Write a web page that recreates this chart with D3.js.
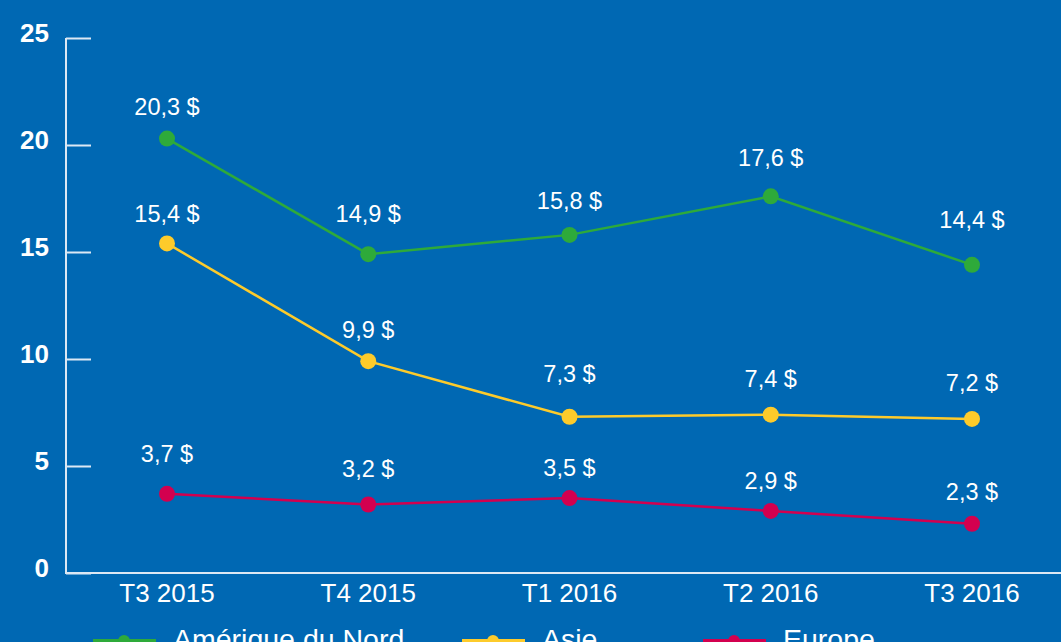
<!DOCTYPE html>
<html>
<head>
<meta charset="utf-8">
<script src="https://cdn.jsdelivr.net/npm/d3@7"></script>
<style>
	body { margin: 0; background: #0068b3; }
	svg { display: block; font-family: "Liberation Sans", Arial, sans-serif; }
</style>
</head>
<body>
<svg id="chart"></svg>
<script>
var windowW = 1061;
var windowH = 642;

var bgColor = "#0068b3";
var axisColor = "#dce8f4";

// data
var quarters = ["T3 2015", "T4 2015", "T1 2016", "T2 2016", "T3 2016"];
var seriesNames = ["Amérique du Nord", "Asie", "Europe"];
var seriesColors = ["#2eaa3a", "#fdcb2b", "#d3004f"];
var northAmerica = [20.3, 14.9, 15.8, 17.6, 14.4];
var asia = [15.4, 9.9, 7.3, 7.4, 7.2];
var europe = [3.7, 3.2, 3.5, 2.9, 2.3];
var yTicks = [0, 5, 10, 15, 20, 25];

// label lift above each point (layout only, px)
var labelLift = [
	[24, 32, 26, 30, 37],
	[21, 23, 35, 28, 28],
	[32, 28, 22, 22, 24]
];

var series = [northAmerica, asia, europe].map(function(vals, i) {
	return { name: seriesNames[i], color: seriesColors[i], values: vals, lift: labelLift[i] };
});

var svg = d3.select("#chart")
	.attr("width", windowW)
	.attr("height", windowH);

svg.append("rect")
	.attr("width", windowW)
	.attr("height", windowH)
	.attr("fill", bgColor);

var x = d3.scalePoint()
	.domain(quarters)
	.range([167, 972]);

var y = d3.scaleLinear()
	.domain([0, 25])
	.range([573, 38]);

//////// Axes

var yAxis = svg.append("g").attr("transform", "translate(66,0)")
	.call(d3.axisRight(y).tickValues(yTicks).tickSize(25).tickFormat(""));

yAxis.select(".domain").remove();
yAxis.selectAll(".tick line")
	.attr("stroke", axisColor)
	.attr("stroke-width", 2);

svg.append("line")
	.attr("x1", 66).attr("x2", 66)
	.attr("y1", y(25)).attr("y2", y(0))
	.attr("stroke", axisColor)
	.attr("stroke-width", 2);

svg.append("line")
	.attr("x1", 65).attr("x2", windowW)
	.attr("y1", y(0)).attr("y2", y(0))
	.attr("stroke", axisColor)
	.attr("stroke-width", 2);

svg.selectAll(".yLabel")
	.data(yTicks)
	.enter().append("text")
	.attr("class", "yLabel")
	.attr("x", 49)
	.attr("y", function(d) { return y(d) + 4; })
	.attr("text-anchor", "end")
	.attr("fill", "white")
	.attr("font-weight", "bold")
	.attr("font-size", 26)
	.text(function(d) { return d; });

svg.selectAll(".xLabel")
	.data(quarters)
	.enter().append("text")
	.attr("class", "xLabel")
	.attr("x", function(d) { return x(d); })
	.attr("y", 602)
	.attr("text-anchor", "middle")
	.attr("fill", "white")
	.attr("font-size", 26)
	.text(function(d) { return d; });

//////// Lines

var line = d3.line()
	.x(function(d, i) { return x(quarters[i]); })
	.y(function(d) { return y(d); });

var fmt = function(v) { return d3.format(".1f")(v).replace(".", ",") + " $"; };

var groups = svg.selectAll(".series")
	.data(series)
	.enter().append("g")
	.attr("class", "series");

groups.append("path")
	.attr("d", function(d) { return line(d.values); })
	.attr("fill", "none")
	.attr("stroke", function(d) { return d.color; })
	.attr("stroke-width", 2.5);

groups.each(function(s) {
	var g = d3.select(this);

	g.selectAll("circle")
		.data(s.values)
		.enter().append("circle")
		.attr("cx", function(d, i) { return x(quarters[i]); })
		.attr("cy", function(d) { return y(d); })
		.attr("r", 8)
		.attr("fill", s.color);

	g.selectAll("text")
		.data(s.values)
		.enter().append("text")
		.attr("x", function(d, i) { return x(quarters[i]); })
		.attr("y", function(d, i) { return y(d) - s.lift[i]; })
		.attr("text-anchor", "middle")
		.attr("fill", "white")
		.attr("font-size", 23.5)
		.text(fmt);
});

//////// Legend

var legendX = [93, 462, 703];

var legend = svg.selectAll(".legendItem")
	.data(series)
	.enter().append("g")
	.attr("class", "legendItem")
	.attr("transform", function(d, i) { return "translate(" + legendX[i] + ",642)"; });

legend.append("rect")
	.attr("x", 0).attr("y", -3)
	.attr("width", 63).attr("height", 6)
	.attr("fill", function(d) { return d.color; });

legend.append("circle")
	.attr("cx", 31).attr("cy", -1)
	.attr("r", 6)
	.attr("fill", function(d) { return d.color; });

legend.append("text")
	.attr("x", 80)
	.attr("y", 7)
	.attr("fill", "white")
	.attr("font-size", 28.5)
	.text(function(d) { return d.name; });
</script>
</body>
</html>
